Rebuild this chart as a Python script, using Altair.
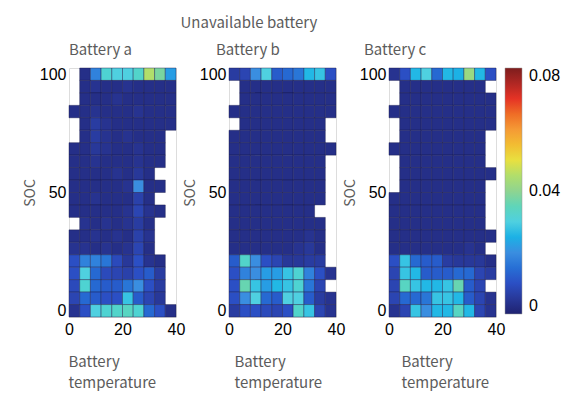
import altair as alt
import pandas as pd
import numpy as np

N = None
# column edges of battery temperature bins (deg C)
temp_edges = [0, 4, 8, 12, 16, 20, 24, 28, 32, 36, 40]
# SOC row centres, bottom (0) to top (100)
soc_centers = list(np.linspace(0, 100, 20))
half = 50 / 19

# cell values in units of 1e-3, rows listed from SOC 100 (top) to SOC 0 (bottom); N = no data
battery_a = [
    [N, 3, 18, 32, 30, 30, 33, 45, 38, 22],
    [N, 3, 4, 3, 3, 4, 3, 3, 3, 3],
    [N, 3, 3, 3, 4, 3, 3, 3, 3, 3],
    [3, 3, 4, 3, 3, 3, 4, 3, 3, 3],
    [N, 3, 6, 4, 3, 3, 3, 3, 3, 3],
    [N, 3, 6, 4, 3, 4, 3, 3, 3, N],
    [3, 3, 5, 4, 3, 3, 4, 3, 3, N],
    [3, 3, 4, 3, 3, 3, 4, 3, 3, N],
    [3, 3, 3, 3, 4, 3, 5, 3, N, N],
    [3, 3, 3, 3, 3, 4, 20, 3, 3, N],
    [3, 3, 4, 3, 3, 3, 7, 3, N, N],
    [3, 3, 3, 3, 3, 4, 8, 4, 3, N],
    [N, 4, 3, 4, 3, 4, 6, 3, N, N],
    [3, 3, 4, 3, 4, 3, 7, 4, N, N],
    [4, 4, 3, 4, 3, 4, 8, 3, N, N],
    [10, 18, 18, 16, 9, 5, 10, 4, 3, N],
    [10, 30, 14, 9, 8, 7, 10, 12, 6, N],
    [9, 32, 14, 12, 12, 16, 20, 10, 6, N],
    [8, 14, 12, 10, 10, 28, 12, 8, 5, N],
    [4, 10, 30, 32, 33, 34, 32, 14, 10, 3],
]
battery_b = [
    [6, 8, 20, 30, 12, 14, 16, 26, 28, 10],
    [N, 3, 3, 3, 3, 3, 3, 3, 3, 3],
    [N, 3, 3, 3, 3, 3, 3, 3, 3, 3],
    [3, 3, 3, 3, 3, 3, 3, 3, 3, 3],
    [N, 3, 3, 3, 3, 3, 3, 3, 3, N],
    [3, 3, 3, 3, 3, 3, 3, 3, 3, N],
    [3, 3, 3, 3, 3, 3, 3, 3, 3, 3],
    [3, 3, 3, 3, 3, 3, 3, 3, 3, N],
    [3, 3, 3, 3, 3, 3, 3, 3, 3, N],
    [3, 3, 3, 3, 3, 3, 3, 3, 3, N],
    [3, 3, 3, 3, 3, 3, 3, 3, 3, N],
    [3, 3, 3, 3, 3, 3, 3, 3, N, N],
    [3, 3, 3, 3, 3, 3, 3, 3, 3, N],
    [3, 3, 3, 3, 3, 3, 3, 4, 3, N],
    [3, 3, 3, 3, 3, 3, 4, 5, 3, N],
    [12, 33, 20, 10, 8, 5, 5, 6, 6, N],
    [10, 18, 20, 22, 22, 28, 32, 18, 10, 4],
    [10, 36, 28, 22, 26, 28, 32, 16, 8, N],
    [10, 20, 30, 14, 12, 30, 30, 12, 6, 4],
    [6, 10, 10, 9, 8, 10, 33, 28, 8, 4],
]
battery_c = [
    [4, 10, 26, 30, 14, 26, 25, 42, 26, 10],
    [N, 3, 3, 3, 3, 3, 3, 3, 3, N],
    [N, 3, 3, 3, 3, 3, 3, 3, 3, 3],
    [3, 3, 3, 3, 3, 3, 3, 3, 3, 3],
    [N, 3, 3, 3, 3, 3, 3, 3, 3, 3],
    [N, 3, 3, 3, 3, 3, 3, 3, 3, N],
    [3, 3, 3, 3, 3, 3, 3, 3, 3, N],
    [N, 3, 3, 3, 3, 3, 3, 3, 3, N],
    [N, 3, 3, 3, 3, 3, 3, 3, 3, 3],
    [N, 3, 3, 3, 3, 3, 3, 3, 3, N],
    [3, 3, 3, 3, 3, 3, 3, 3, 3, N],
    [3, 3, 3, 3, 3, 3, 3, 3, 3, N],
    [3, 3, 3, 3, 3, 3, 3, 3, 3, N],
    [3, 3, 3, 3, 3, 3, 3, 3, 3, 3],
    [3, 3, 3, 3, 3, 3, 3, 4, 3, N],
    [10, 28, 14, 12, 12, 6, 5, 5, 5, 3],
    [8, 28, 26, 12, 12, 12, 14, 14, 8, 6],
    [8, 34, 28, 26, 26, 28, 36, 12, 8, N],
    [8, 14, 14, 16, 28, 28, 26, 12, 8, 4],
    [4, 8, 28, 20, 26, 26, 34, 26, 8, 4],
]

color_stops = [0, 0.01, 0.02, 0.03, 0.04, 0.05, 0.06, 0.07, 0.08]
color_range = ["#1f2270", "#2b4fc4", "#3a8ee0", "#4fd0e0", "#8fd490",
               "#e8e040", "#f59a35", "#e53325", "#7d1d1d"]


def to_frame(rows):
    recs = []
    for r, row in enumerate(rows):
        soc = soc_centers[19 - r]
        for c, v in enumerate(row):
            if v is None:
                continue
            recs.append({"x0": temp_edges[c], "x1": temp_edges[c + 1],
                         "y0": soc - half, "y1": soc + half, "v": v / 1000})
    return pd.DataFrame(recs)


TFONT = "Noto Sans CJK JP"
NFONT = "Liberation Sans"
GRAY = "#5c5c5c"

color_scale = alt.Scale(domain=color_stops, range=color_range)
legend = alt.Legend(orient="none", legendX=436, legendY=0, direction="vertical",
                    gradientLength=246, gradientThickness=17, values=[0, 0.04, 0.08],
                    labelExpr="datum.value == 0 ? '0' : format(datum.value, '.2f')",
                    labelFontSize=16, labelFont=NFONT, labelColor="black", labelOffset=7,
                    gradientStrokeColor="#999999", gradientStrokeWidth=0.5, title=None)


def panel(rows, name, dx, tx):
    return alt.Chart(to_frame(rows)).mark_rect(
        stroke="#1a1a48", strokeWidth=0.6, strokeOpacity=0.7
    ).encode(
        x=alt.X("x0:Q", scale=alt.Scale(domain=[0, 40], nice=False, zero=False),
                axis=alt.Axis(values=[0, 20, 40], title=["Battery", "temperature"],
                              labelFlush=False, ticks=False, domain=False, grid=False,
                              labelFontSize=16, labelFont=NFONT, labelColor="black",
                              labelPadding=4, titleFont=TFONT, titleFontSize=15,
                              titleFontWeight="normal", titleColor=GRAY,
                              titleAnchor="start", titleAlign="left", titleLineHeight=21,
                              titleX=tx, titlePadding=17)),
        x2="x1:Q",
        y=alt.Y("y0:Q", scale=alt.Scale(domain=[-half, 100 + half], nice=False, zero=False),
                axis=alt.Axis(values=[0, 50, 100], title="SOC", labelFlush=False,
                              ticks=False, domain=False, grid=False,
                              labelFontSize=16, labelFont=NFONT, labelColor="black",
                              labelPadding=3, titleFont=TFONT, titleFontSize=14,
                              titleFontWeight="normal", titleColor=GRAY, titlePadding=2)),
        y2="y1:Q",
        color=alt.Color("v:Q", scale=color_scale, legend=legend),
    ).properties(width=107, height=249,
                 title=alt.TitleParams(name, anchor="start", frame="group", dx=dx,
                                       font=TFONT, fontSize=15, fontWeight="normal",
                                       color=GRAY, offset=8))


chart = alt.hconcat(
    panel(battery_a, "Battery a", 0, -1),
    panel(battery_b, "Battery b", -13, 5),
    panel(battery_c, "Battery c", -25, 12),
    spacing=-4,
).properties(
    title=alt.TitleParams("Unavailable battery", anchor="middle", dx=-43, font=TFONT,
                          fontSize=15, fontWeight="normal", color=GRAY, offset=12),
    padding={"left": 22, "top": 15, "right": 2, "bottom": 0},
).configure_view(stroke="#8a8a8a", strokeWidth=0.8).configure(background="white")

chart.save("out.html", embed_options={"renderer": "svg", "actions": False})
